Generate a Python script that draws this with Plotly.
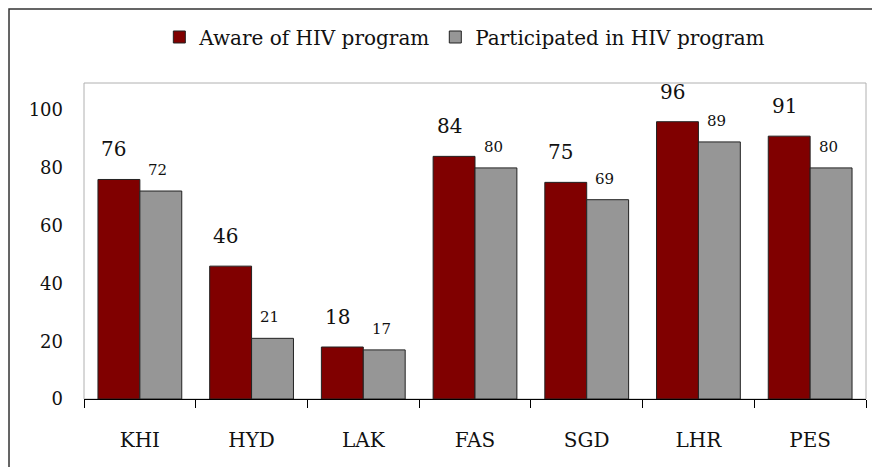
import plotly.graph_objects as go

categories = ["KHI", "HYD", "LAK", "FAS", "SGD", "LHR", "PES"]
aware = [76, 46, 18, 84, 75, 96, 91]
participated = [72, 21, 17, 80, 69, 89, 80]
series_names = ["Aware of HIV program", "Participated in HIV program"]
y_ticks = [0, 20, 40, 60, 80, 100]

FONT = "DejaVu Serif"
RED = "#800000"
GRAY = "#969696"

fig = go.Figure()
fig.add_trace(go.Bar(x=categories, y=aware, name=series_names[0],
                     marker=dict(color=RED, line=dict(color="#222222", width=1))))
fig.add_trace(go.Bar(x=categories, y=participated, name=series_names[1],
                     marker=dict(color=GRAY, line=dict(color="#222222", width=1))))

annotations = []
for c, v in zip(categories, aware):
    annotations.append(dict(x=c, y=v, xref="x", yref="y", text=str(v), showarrow=False,
                            xshift=-26, yshift=16, yanchor="bottom",
                            font=dict(family=FONT, size=20, color="#111111")))
for c, v in zip(categories, participated):
    annotations.append(dict(x=c, y=v, xref="x", yref="y", text=str(v), showarrow=False,
                            xshift=18, yshift=10, yanchor="bottom",
                            font=dict(family=FONT, size=15, color="#111111")))

fig.update_layout(
    width=880, height=467,
    margin=dict(l=76, r=22, t=75, b=76, autoexpand=False),
    paper_bgcolor="white", plot_bgcolor="white",
    barmode="group", bargap=0.25, bargroupgap=0,
    font=dict(family=FONT, size=18, color="#111111"),
    showlegend=True,
    legend=dict(orientation="h", x=0.487, xanchor="center", y=1.1456, yanchor="middle",
                font=dict(family=FONT, size=20, color="#111111"),
                itemwidth=30, traceorder="normal", bgcolor="rgba(0,0,0,0)"),
    annotations=annotations,
    shapes=[
        dict(type="rect", xref="paper", yref="paper", x0=0, x1=1, y0=0, y1=1,
             line=dict(color="#b0b0b0", width=1), layer="below"),
        dict(type="rect", xref="paper", yref="paper", x0=-0.0959, x1=1.2, y0=-0.4, y1=1.2342,
             line=dict(color="#333333", width=1.5)),
    ],
)
fig.update_xaxes(showline=True, linecolor="black", linewidth=1,
                 ticks="outside", tickson="boundaries", ticklen=8, tickcolor="black",
                 ticklabelstandoff=23, showgrid=False, automargin=False,
                 tickfont=dict(family=FONT, size=20, color="#111111"))
fig.update_yaxes(range=[0, 109.4], tickvals=y_ticks, showgrid=False, zeroline=False,
                 showline=False, ticks="", ticklabelstandoff=20, automargin=False,
                 tickfont=dict(family=FONT, size=18, color="#111111"))

fig.write_html("out.html")
